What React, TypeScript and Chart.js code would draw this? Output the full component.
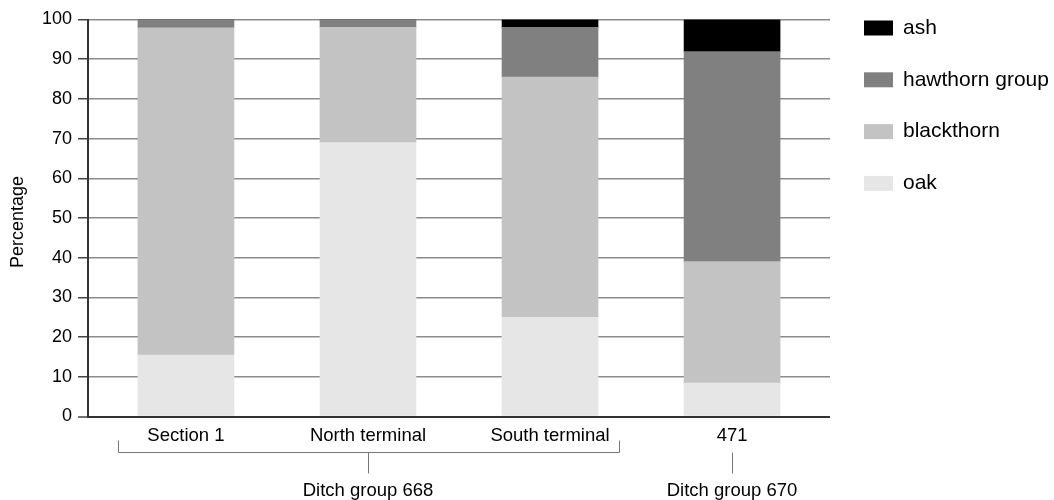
import React, { useEffect, useRef } from "react";
import { Chart, registerables } from "chart.js";

Chart.register(...registerables);

const categories = ["Section 1", "North terminal", "South terminal", "471"];
const oak = [15.5, 69, 25, 8.4];
const blackthorn = [82.4, 29, 60.5, 30.6];
const hawthorn = [2.1, 2, 12.5, 52.9];
const ash = [0, 0, 2, 8.1];
const yTicks = [0, 10, 20, 30, 40, 50, 60, 70, 80, 90, 100];
const groups = [
  { label: "Ditch group 668", from: 0, to: 2 },
  { label: "Ditch group 670", from: 3, to: 3 },
];

const FONT = "'Liberation Sans', Arial, sans-serif";

const series = [
  { label: "oak", values: oak, color: "#e6e6e6" },
  { label: "blackthorn", values: blackthorn, color: "#c3c3c3" },
  { label: "hawthorn group", values: hawthorn, color: "#808080" },
  { label: "ash", values: ash, color: "#000000" },
];

const overlay = {
  id: "overlay",
  afterDraw(chart: any) {
    const ctx = chart.ctx;
    const xs = chart.scales.x;
    const area = chart.chartArea;
    ctx.save();
    // y title
    ctx.fillStyle = "#000";
    ctx.font = `18px ${FONT}`;
    ctx.textAlign = "center";
    ctx.textBaseline = "middle";
    ctx.save();
    ctx.translate(18, (area.top + area.bottom) / 2 + 4);
    ctx.rotate(-Math.PI / 2);
    ctx.fillText("Percentage", 0, 0);
    ctx.restore();

    // category labels
    ctx.font = `18.5px ${FONT}`;
    categories.forEach((c, i) => {
      ctx.fillText(c, xs.getPixelForValue(i), area.bottom + 19);
    });

    // group brackets
    ctx.strokeStyle = "#777";
    ctx.lineWidth = 1;
    const yb = area.bottom + 36;
    groups.forEach((g) => {
      const cx = (xs.getPixelForValue(g.from) + xs.getPixelForValue(g.to)) / 2;
      if (g.to > g.from) {
        const l = Math.round(xs.getPixelForValue(g.from - 0.373)) + 0.5;
        const r = Math.round(xs.getPixelForValue(g.to + 0.38)) + 0.5;
        ctx.beginPath();
        ctx.moveTo(l, yb - 12);
        ctx.lineTo(l, yb);
        ctx.lineTo(r, yb);
        ctx.lineTo(r, yb - 12);
        ctx.stroke();
      }
      const sx = Math.round(cx) + 0.5;
      ctx.beginPath();
      ctx.moveTo(sx, yb);
      ctx.lineTo(sx, yb + 21);
      ctx.stroke();
      ctx.fillText(g.label, cx, area.bottom + 74);
    });

    // legend
    ctx.textAlign = "left";
    ctx.font = `21px ${FONT}`;
    const legendItems = [...series].reverse();
    legendItems.forEach((s, i) => {
      const cy = 28 + i * 51.8;
      ctx.fillStyle = s.color;
      ctx.fillRect(864, cy - 7.5, 29, 15);
      ctx.fillStyle = "#000";
      ctx.fillText(s.label, 903, cy);
    });
    ctx.restore();
  },
};

export default function App() {
  const ref = useRef<HTMLCanvasElement>(null);
  useEffect(() => {
    document.body.style.margin = "0";
    const chart = new Chart(ref.current!, {
      type: "bar",
      data: {
        datasets: series.map((s) => ({
          label: s.label,
          data: s.values.map((v, i) => ({ x: i, y: v })),
          backgroundColor: s.color,
          borderWidth: 0,
          barThickness: 96,
        })),
      },
      options: {
        responsive: false,
        animation: false,
        layout: { padding: { top: 19.5, right: 224, bottom: 83.5, left: 0 } },
        plugins: { legend: { display: false }, tooltip: { enabled: false } },
        scales: {
          x: {
            type: "linear",
            min: -0.538,
            max: 3.538,
            offset: false,
            stacked: true,
            display: false,
          },
          y: {
            stacked: true,
            min: 0,
            max: 100,
            afterBuildTicks: (scale: any) => {
              scale.ticks = yTicks.map((v) => ({ value: v }));
            },
            afterFit: (scale: any) => {
              scale.width = 88;
            },
            border: { display: true, color: "#333", width: 2 },
            grid: {
              color: (c: any) => (c.tick && c.tick.value === 0 ? "#333" : "#8c8c8c"),
              lineWidth: (c: any) => (c.tick && c.tick.value === 0 ? 2 : 1.5),
              tickColor: "#444",
              tickLength: 10,
              tickWidth: 1.5,
            },
            ticks: {
              color: "#000",
              font: { family: FONT, size: 18 },
              padding: 6,
            },
          },
        },
      },
      plugins: [overlay],
    });
    return () => chart.destroy();
  }, []);
  return <canvas ref={ref} width={1054} height={500} style={{ display: "block" }} />;
}
